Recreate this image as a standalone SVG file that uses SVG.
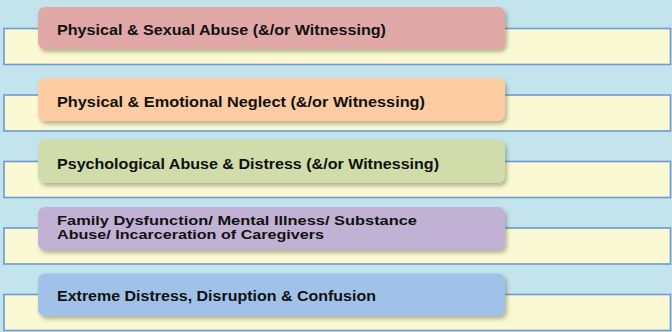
<svg xmlns="http://www.w3.org/2000/svg" width="672" height="332" viewBox="0 0 672 332">
<defs>
<filter id="sh" x="-5%" y="-20%" width="110%" height="150%">
<feDropShadow dx="2" dy="3" stdDeviation="2" flood-color="#5a5a3a" flood-opacity="0.45"/>
</filter>
<style>
.bar{fill:#fbf8d4;stroke:#6c9ad2;stroke-width:1.6}
.lab{filter:url(#sh)}
.t{font-family:"Liberation Sans",Arial,sans-serif;font-weight:bold;font-size:15.5px;fill:#111}
.t4{font-size:13.5px}
</style>
</defs>
<rect width="672" height="332" fill="#c3e4ed"/>
<g id="row1">
<rect class="bar" x="4" y="28.5" width="666.5" height="36"/>
<rect class="lab" x="38" y="7" width="467" height="42" rx="7" fill="#e1a8a8"/>
<text class="t" x="57" y="34.5" textLength="329" lengthAdjust="spacingAndGlyphs">Physical &amp; Sexual Abuse (&amp;/or Witnessing)</text>
</g>
<g id="row2">
<rect class="bar" x="4" y="95" width="666.5" height="36"/>
<rect class="lab" x="38" y="78" width="467" height="43" rx="7" fill="#fdcca2"/>
<text class="t" x="57" y="106.5" textLength="368" lengthAdjust="spacingAndGlyphs">Physical &amp; Emotional Neglect (&amp;/or Witnessing)</text>
</g>
<g id="row3">
<rect class="bar" x="4" y="161.5" width="666.5" height="36"/>
<rect class="lab" x="38" y="140" width="467" height="43" rx="7" fill="#d0dcaa"/>
<text class="t" x="57" y="168.5" textLength="382" lengthAdjust="spacingAndGlyphs">Psychological Abuse &amp; Distress (&amp;/or Witnessing)</text>
</g>
<g id="row4">
<rect class="bar" x="4" y="228" width="666.5" height="36"/>
<rect class="lab" x="38" y="207" width="467" height="43" rx="7" fill="#c1b1d4"/>
<text class="t t4" x="57" y="224.5" textLength="360" lengthAdjust="spacingAndGlyphs">Family Dysfunction/ Mental Illness/ Substance</text>
<text class="t t4" x="57" y="238.5" textLength="267" lengthAdjust="spacingAndGlyphs">Abuse/ Incarceration of Caregivers</text>
</g>
<g id="row5">
<rect class="bar" x="4" y="294.5" width="666.5" height="36"/>
<rect class="lab" x="38" y="273.5" width="467" height="42.5" rx="7" fill="#a0c2e9"/>
<text class="t" x="57" y="300.5" textLength="319" lengthAdjust="spacingAndGlyphs">Extreme Distress, Disruption &amp; Confusion</text>
</g>
<g id="connectors"/>
</svg>
